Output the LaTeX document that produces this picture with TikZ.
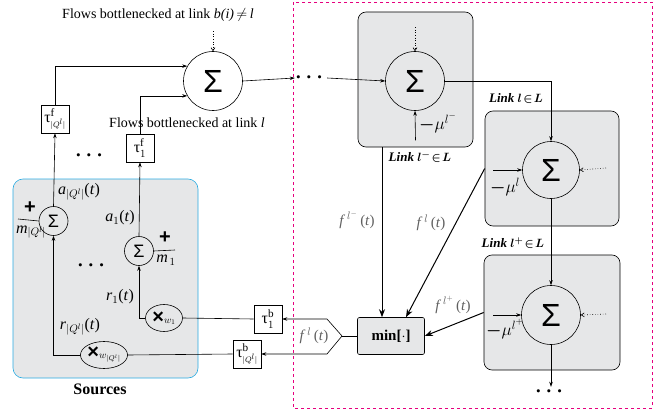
\documentclass[tikz,border=0pt]{standalone}
\usepackage{amsmath,amssymb,bm}
\usepackage{fontspec}
\setmainfont{Liberation Serif}
\newfontfamily\sigfont{Liberation Sans}
\usetikzlibrary{arrows.meta,shapes.geometric,positioning}
\definecolor{boxgray}{RGB}{230,231,232}
\definecolor{srcblue}{RGB}{41,171,226}
\definecolor{netpink}{RGB}{230,0,126}
\newcommand{\taulabel}[2]{τ$^{\scriptstyle\mathrm{#1}}_{#2}$}
\newcommand{\sigt}[2]{\textit{#1}$_{#2}$(\textit{t})}
\newcommand{\flowt}[1]{\textit{f}$^{\,#1}$\,(\textit{t})}
\tikzset{
  sumbig/.style={circle,draw,minimum size=59pt,inner sep=0pt,font=\sigfont\fontsize{32}{32}\selectfont},
  sumsmall/.style={circle,draw,minimum size=29pt,inner sep=0pt,font=\sigfont\fontsize{18}{18}\selectfont},
  taubox/.style={draw,fill=white,minimum width=28pt,minimum height=28pt,inner sep=0pt,font=\fontsize{16}{16}\selectfont},
  mulnode/.style={ellipse,draw,minimum width=37pt,minimum height=27pt,inner sep=0pt},
  linkbox/.style={draw,fill=boxgray,rounded corners=8pt},
  linklabel/.style={font=\bfseries\itshape\fontsize{13}{13}\selectfont},
  siglabel/.style={font=\fontsize{16}{16}\selectfont},
  flowlabel/.style={font=\fontsize{15}{15}\selectfont,text=gray!75!black},
  mulabel/.style={font=\fontsize{18}{18}\selectfont},
  flow/.style={-{Stealth[length=5pt,width=3.5pt]}},
  fatflow/.style={line width=1pt,-{Stealth[length=8pt,width=6pt]}},
  dotflow/.style={dotted,-{Straight Barb[length=3pt,width=4pt]}},
  dotsnode/.style={font=\fontsize{22}{22}\selectfont,inner sep=0pt}
}
\begin{document}
\begin{tikzpicture}[x=1pt,y=-1pt,line width=0.6pt]
  \useasboundingbox (0,0) rectangle (667,412);

  % Frames
  \draw[netpink,dashed] (293,2) rectangle (652,408);
  \node[draw=srcblue,fill=boxgray,rounded corners=10pt,minimum width=185pt,minimum height=199pt] (srcbox) at (105.5,278.5) {};
  \node[font=\bfseries\fontsize{16}{16}\selectfont] (srclabel) at (100,389) {Sources};

  % Link boxes
  \node[linkbox,minimum width=115pt,minimum height=135pt] (boxlm) at (415.5,79.5) {};
  \node[linkbox,minimum width=134pt,minimum height=115pt] (boxl) at (552,168.5) {};
  \node[linkbox,minimum width=136pt,minimum height=115pt] (boxlp) at (552,312.5) {};

  % Aggregation of the flows
  \node[font=\fontsize{14}{14}\selectfont] (toptxt) at (158,15) {Flows bottlenecked at link \textit{b(i)}$\,\neq\,$\textit{l}};
  \node[sumbig] (sumb) at (213,81) {Σ};
  \draw[dotflow] (toptxt.south -| sumb) ++(0,6) -- (sumb.north);
  \node[dotsnode] (mdots) at (311,78) {$\boldsymbol{\cdots}$};
  \draw[flow] (sumb.east) -- (mdots.west);

  % Sources
  \node[taubox] (tauqf) at (55,119) {\taulabel{f}{\scriptscriptstyle|Q^l|}};
  \node[taubox] (tau1f) at (140,148) {\taulabel{f}{\scriptstyle 1}};
  \node[font=\fontsize{14}{14}\selectfont] (lowtxt) at (187,123) {Flows bottlenecked at link \textit{l}};
  \node[dotsnode] (fdots) at (91,156) {$\boldsymbol{\cdots}$};
  \draw[flow] (tauqf.north) |- (sumb.150);
  \draw[flow] (tau1f.north) |- (sumb.210);

  \node[sumsmall] (sumq) at (53.5,221) {Σ};
  \node[sumsmall] (sum1) at (139,251) {Σ};
  \draw[flow] (sumq.north) -- (tauqf.south);
  \draw[flow] (sum1.north) -- (tau1f.south);
  \node[siglabel] (aq) at (79,192) {\sigt{a}{|Q^l|}};
  \node[siglabel] (a1) at (120,218) {\sigt{a}{1}};

  \coordinate (mqend) at (18,219);
  \draw (mqend) -- (sumq.west);
  \node[font=\sigfont\bfseries\fontsize{20}{20}\selectfont] (plusq) at (30,208) {+};
  \node[siglabel] (mq) at (31,232) {\textit{m}$_{|Q^l|}$};
  \coordinate (m1end) at (175,250);
  \draw (sum1.east) -- (m1end);
  \node[font=\sigfont\bfseries\fontsize{20}{20}\selectfont] (plus1) at (165,238) {+};
  \node[siglabel] (m1) at (166,260) {\textit{m}$_{\,1}$};
  \node[dotsnode] (sdots) at (93,266) {$\boldsymbol{\cdots}$};

  \node[mulnode] (mul1) at (164,318) {{\sigfont\bfseries\fontsize{20}{20}\selectfont ×}{\fontsize{10}{10}\selectfont$w_1$}};
  \node[mulnode] (mulq) at (104,355) {{\sigfont\bfseries\fontsize{20}{20}\selectfont ×}{\fontsize{10}{10}\selectfont$w_{|Q^l|}$}};
  \draw[flow] (mul1.west) -| (sum1.south);
  \draw[flow] (mulq.west) -| (sumq.south);
  \node[siglabel] (r1) at (120,297) {\sigt{r}{1}};
  \node[siglabel] (rq) at (80,327) {\sigt{r}{|Q^l|}};

  % Backward delays
  \node[taubox] (tau1b) at (268,319) {\taulabel{b}{\scriptstyle 1}};
  \node[taubox] (tauqb) at (247,354) {\taulabel{b}{\scriptscriptstyle|Q^l|}};
  \draw (mul1.east) -- (tau1b.west);
  \draw (mulq.east) -- (tauqb.west);

  % Link l^-
  \node[sumbig] (sumlm) at (415,81) {Σ};
  \draw[flow] (mdots.east) -- (sumlm.west);
  \draw[dotflow] ([yshift=24pt]sumlm.north) -- (sumlm.north);
  \draw[flow] ([yshift=7pt]boxlm.south) -- (sumlm.south);
  \node[mulabel] (mulm) at (438,123) {$\boldsymbol{-}\mu^{l^{-}}$};
  \node[linklabel] (lablm) at (420,157) {Link $\boldsymbol{l^{-}\!\in\! L}$};

  % Link l
  \node[sumbig,minimum size=57pt] (suml) at (551,170) {Σ};
  \draw[flow] (sumlm.east) -| (suml.north);
  \node[linklabel] (labl) at (516,99) {Link $\boldsymbol{l\!\in\! L}$};
  \coordinate (mulin) at (493,170);
  \draw[flow] (mulin) -- (suml.west);
  \node[mulabel] (mul) at (505,187) {$\boldsymbol{-}\mu^{l}$};
  \coordinate (dotl) at (606,168);
  \draw[dotflow] (dotl) -- (suml.east);

  % Link l^+
  \node[sumbig] (sumlp) at (551,315) {Σ};
  \draw[flow] (suml.south) -- (sumlp.north);
  \node[linklabel] (lablp) at (513,243) {Link $\boldsymbol{l^{+}\!\in\! L}$};
  \coordinate (mulpin) at (493,315);
  \draw[flow] (mulpin) -- (sumlp.west);
  \node[mulabel] (mulp) at (505,329) {$\boldsymbol{-}\mu^{l^{+}}$};
  \coordinate (dotlp) at (606,314);
  \draw[dotflow] (dotlp) -- (sumlp.east);
  \node[dotsnode] (bdots) at (551,392) {$\boldsymbol{\cdots}$};
  \draw[flow] (sumlp.south) -- (bdots.north);

  % Minimum of the link rates
  \node[draw,fill=boxgray,rounded corners=2pt,minimum width=67pt,minimum height=37pt,font=\bfseries\fontsize{15}{15}\selectfont] (minbox) at (391,336) {min[$\cdot$]};
  \coordinate (flmtop) at (382,147);
  \draw[fatflow] (flmtop) -- (flmtop |- minbox.north);
  \draw[fatflow] (boxl.west) -- ([xshift=15pt]minbox.north);
  \draw[fatflow] (boxlp.west) -- (minbox.east);
  \node[flowlabel] (flm) at (357,220) {\flowt{l^{-}}};
  \node[flowlabel] (fl) at (431,223) {\flowt{l}};
  \node[flowlabel] (flp) at (453,305) {\flowt{l^{+}}};

  % Feedback to the sources
  \coordinate (pentip) at (342,336);
  \draw (pentip) -- (minbox.west);
  \draw[flow] (pentip) -- (327,319) -- (tau1b.east);
  \draw[flow] (pentip) -- (327,354) -- (tauqb.east);
  \node[flowlabel] (flb) at (314,336) {\flowt{l}};
\end{tikzpicture}
\end{document}
